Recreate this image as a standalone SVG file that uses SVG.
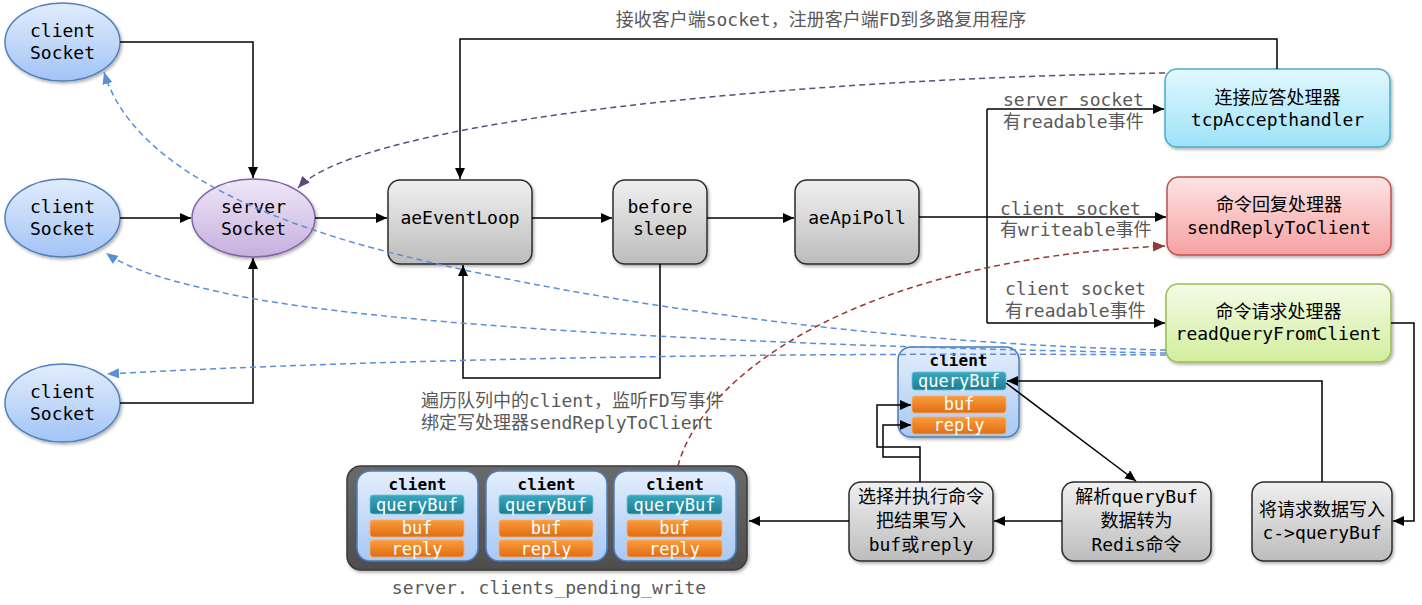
<svg xmlns="http://www.w3.org/2000/svg" width="1422" height="605" viewBox="0 0 1422 605">
<style>
text{font-family:"DejaVu Sans Mono","Noto Sans CJK SC",monospace;font-size:18px;fill:#000}
.c{text-anchor:middle}
.lbl{fill:#595959}
.w{fill:#fff;font-size:17px;text-anchor:middle}
.b{font-weight:bold;font-size:16px;text-anchor:middle}
.ln{fill:none;stroke:#000;stroke-width:1.5}
.ar{marker-end:url(#ah)}
.dB{fill:none;stroke:#5a8fd8;stroke-width:1.5;stroke-dasharray:6,4;marker-end:url(#ahB)}
.dP{fill:none;stroke:#604a7b;stroke-width:1.5;stroke-dasharray:6,4;marker-end:url(#ahP)}
.dR{fill:none;stroke:#953735;stroke-width:1.5;stroke-dasharray:6,4;marker-end:url(#ahR)}
.grey{fill:url(#gGrey);stroke:#2b2b2b;stroke-width:1.5;filter:url(#sh)}
.cb{fill:url(#gClient);stroke:#4a7ebb;stroke-width:1.5}
.qb{fill:url(#gTeal);stroke:#6fc3d4;stroke-width:0.8}
.ob{fill:url(#gOrange);stroke:#f6b070;stroke-width:0.8}
</style>
<defs>
<filter id="sh" x="-10%" y="-10%" width="130%" height="130%"><feDropShadow dx="1.5" dy="2" stdDeviation="1.5" flood-color="#000" flood-opacity="0.3"/></filter>
<linearGradient id="gBlue" x1="0" y1="0" x2="0" y2="1"><stop offset="0" stop-color="#e2edfc"/><stop offset="1" stop-color="#a2c4f6"/></linearGradient>
<linearGradient id="gPurple" x1="0" y1="0" x2="0" y2="1"><stop offset="0" stop-color="#efe8f7"/><stop offset="1" stop-color="#c5afdf"/></linearGradient>
<linearGradient id="gGrey" x1="0" y1="0" x2="0" y2="1"><stop offset="0" stop-color="#f0f0f0"/><stop offset="1" stop-color="#bcbcbc"/></linearGradient>
<linearGradient id="gCyan" x1="0" y1="0" x2="0" y2="1"><stop offset="0" stop-color="#e2f8fe"/><stop offset="1" stop-color="#9de2f8"/></linearGradient>
<linearGradient id="gRed" x1="0" y1="0" x2="0" y2="1"><stop offset="0" stop-color="#fde4e4"/><stop offset="1" stop-color="#f6a1a1"/></linearGradient>
<linearGradient id="gGreen" x1="0" y1="0" x2="0" y2="1"><stop offset="0" stop-color="#f4fbe7"/><stop offset="1" stop-color="#d2ee9d"/></linearGradient>
<linearGradient id="gClient" x1="0" y1="0" x2="0" y2="1"><stop offset="0" stop-color="#e4eefc"/><stop offset="1" stop-color="#a8c8f4"/></linearGradient>
<linearGradient id="gTeal" x1="0" y1="0" x2="0" y2="1"><stop offset="0" stop-color="#3aa9c0"/><stop offset="1" stop-color="#1c7d92"/></linearGradient>
<linearGradient id="gOrange" x1="0" y1="0" x2="0" y2="1"><stop offset="0" stop-color="#fc9c3a"/><stop offset="1" stop-color="#df6d14"/></linearGradient>
<linearGradient id="gDark" x1="0" y1="0" x2="0" y2="1"><stop offset="0" stop-color="#6a6a6a"/><stop offset="1" stop-color="#4e4e4e"/></linearGradient>
<marker id="ah" markerUnits="userSpaceOnUse" markerWidth="11" markerHeight="10" refX="11" refY="5" orient="auto"><path d="M0,0 L11,5 L0,10 z" fill="#000"/></marker>
<marker id="ahB" markerUnits="userSpaceOnUse" markerWidth="12" markerHeight="10" refX="12" refY="5" orient="auto"><path d="M0,0 L12,5 L0,10 z" fill="#5a8fd8"/></marker>
<marker id="ahP" markerUnits="userSpaceOnUse" markerWidth="12" markerHeight="10" refX="12" refY="5" orient="auto"><path d="M0,0 L12,5 L0,10 z" fill="#604a7b"/></marker>
<marker id="ahR" markerUnits="userSpaceOnUse" markerWidth="12" markerHeight="10" refX="12" refY="5" orient="auto"><path d="M0,0 L12,5 L0,10 z" fill="#953735"/></marker>
</defs>
<rect width="1422" height="605" fill="#fff"/>

<g id="clientSocket1"><ellipse cx="62.5" cy="42" rx="57.5" ry="39" fill="url(#gBlue)" stroke="#4f81bd" stroke-width="1.5" filter="url(#sh)"/><text x="62.5" y="37" class="c">client</text><text x="62.5" y="59" class="c">Socket</text></g>
<g id="clientSocket2"><ellipse cx="62.5" cy="218" rx="57.5" ry="39" fill="url(#gBlue)" stroke="#4f81bd" stroke-width="1.5" filter="url(#sh)"/><text x="62.5" y="213" class="c">client</text><text x="62.5" y="235" class="c">Socket</text></g>
<g id="clientSocket3"><ellipse cx="62.5" cy="403" rx="57.5" ry="39" fill="url(#gBlue)" stroke="#4f81bd" stroke-width="1.5" filter="url(#sh)"/><text x="62.5" y="398" class="c">client</text><text x="62.5" y="420" class="c">Socket</text></g>
<g id="serverSocket"><ellipse cx="253.5" cy="218" rx="61.5" ry="39" fill="url(#gPurple)" stroke="#8064a2" stroke-width="1.5" filter="url(#sh)"/><text x="253.5" y="213" class="c">server</text><text x="253.5" y="235" class="c">Socket</text></g>
<g id="aeEventLoop"><rect x="388" y="180" width="144" height="84" rx="12" class="grey"/><text x="460" y="224" class="c">aeEventLoop</text></g>
<g id="beforeSleep"><rect x="613" y="180" width="94" height="84" rx="12" class="grey"/><text x="660" y="213" class="c">before</text><text x="660" y="235" class="c">sleep</text></g>
<g id="aeApiPoll"><rect x="795" y="180" width="124" height="84" rx="12" class="grey"/><text x="857" y="224" class="c">aeApiPoll</text></g>
<g id="tcpAcceptHandler"><rect x="1165" y="69" width="225" height="78" rx="12" fill="url(#gCyan)" stroke="#4bacc6" stroke-width="1.5" filter="url(#sh)"/><text x="1277.5" y="104" class="c">连接应答处理器</text><text x="1277.5" y="126" class="c">tcpAccepthandler</text></g>
<g id="sendReplyToClient"><rect x="1167" y="177" width="224" height="78" rx="12" fill="url(#gRed)" stroke="#c0504d" stroke-width="1.5" filter="url(#sh)"/><text x="1279" y="211" class="c">命令回复处理器</text><text x="1279" y="234" class="c">sendReplyToClient</text></g>
<g id="readQueryFromClient"><rect x="1166" y="284" width="225" height="78" rx="12" fill="url(#gGreen)" stroke="#9bbb59" stroke-width="1.5" filter="url(#sh)"/><text x="1278.5" y="318" class="c">命令请求处理器</text><text x="1278.5" y="340" class="c">readQueryFromClient</text></g>

<g id="pendingWrite">
<rect x="347" y="466" width="400" height="104" rx="14" fill="url(#gDark)" stroke="#3a3a3a" stroke-width="1.5" filter="url(#sh)"/>
<g id="pendingClient1"><rect x="357" y="471" width="121" height="90" rx="13" class="cb"/><text x="417.5" y="490" class="b">client</text><rect x="370" y="495" width="94" height="19" rx="3" class="qb"/><text x="417" y="511" class="w">queryBuf</text><rect x="370" y="520" width="94" height="17" rx="3" class="ob"/><text x="417" y="534" class="w">buf</text><rect x="370" y="540" width="94" height="17" rx="3" class="ob"/><text x="417" y="555" class="w">reply</text></g>
<g id="pendingClient2"><rect x="486" y="471" width="121" height="90" rx="13" class="cb"/><text x="546.5" y="490" class="b">client</text><rect x="499" y="495" width="94" height="19" rx="3" class="qb"/><text x="546" y="511" class="w">queryBuf</text><rect x="499" y="520" width="94" height="17" rx="3" class="ob"/><text x="546" y="534" class="w">buf</text><rect x="499" y="540" width="94" height="17" rx="3" class="ob"/><text x="546" y="555" class="w">reply</text></g>
<g id="pendingClient3"><rect x="614" y="471" width="122" height="90" rx="13" class="cb"/><text x="675" y="490" class="b">client</text><rect x="627" y="495" width="95" height="19" rx="3" class="qb"/><text x="674.5" y="511" class="w">queryBuf</text><rect x="627" y="520" width="95" height="17" rx="3" class="ob"/><text x="674.5" y="534" class="w">buf</text><rect x="627" y="540" width="95" height="17" rx="3" class="ob"/><text x="674.5" y="555" class="w">reply</text></g>
</g>
<g id="client"><rect x="898" y="347" width="121" height="90" rx="13" class="cb" filter="url(#sh)"/><text x="958.5" y="366" class="b">client</text><rect x="912" y="372" width="94" height="18" rx="3" class="qb"/><text x="959" y="387" class="w">queryBuf</text><rect x="912" y="396" width="94" height="17" rx="3" class="ob"/><text x="959" y="410" class="w">buf</text><rect x="912" y="417" width="94" height="17" rx="3" class="ob"/><text x="959" y="431" class="w">reply</text></g>
<g id="execCommand"><rect x="849" y="482" width="144" height="79" rx="12" class="grey"/><text x="921" y="503" class="c">选择并执行命令</text><text x="921" y="527" class="c">把结果写入</text><text x="921" y="551" class="c">buf或reply</text></g>
<g id="parseQuery"><rect x="1062" y="482" width="149" height="79" rx="12" class="grey"/><text x="1136.5" y="503" class="c">解析queryBuf</text><text x="1136.5" y="527" class="c">数据转为</text><text x="1136.5" y="551" class="c">Redis命令</text></g>
<g id="writeQuery"><rect x="1252" y="482" width="140" height="79" rx="12" class="grey"/><text x="1322" y="516" class="c">将请求数据写入</text><text x="1322" y="539" class="c">c-&gt;queryBuf</text></g>

<g id="connectors">
<path class="ln ar" d="M120,42 H253 V178"/>
<path class="ln ar" d="M120,218 H191"/>
<path class="ln ar" d="M120,403 H253 V258"/>
<path class="ln ar" d="M315,218 H387"/>
<path class="ln ar" d="M532,218 H612"/>
<path class="ln ar" d="M707,218 H794"/>
<path class="ln ar" d="M1277,69 V39 H460 V179"/>
<path class="ln ar" d="M660,264 V378 H463 V265"/>
<path class="ln ar" d="M919,217 H1166"/>
<path class="ln" d="M987,109 V323"/>
<path class="ln ar" d="M987,109 H1164"/>
<path class="ln ar" d="M987,323 H1165"/>
<path class="ln ar" d="M1391,323 H1414 V521 H1393"/>
<path class="ln ar" d="M1322,482 V381 H1007"/>
<path class="ln ar" d="M1006,383 L1136,481"/>
<path class="ln ar" d="M1062,521 H994"/>
<path class="ln ar" d="M849,521 H749"/>
<path class="ln ar" d="M920,482 V447 H877 V405 H911"/>
<path class="ln ar" d="M920,457 H883 V425 H911"/>
<path class="dP" d="M1165,73 C800,78 360,120 298,188"/>
<path class="dB" d="M1166,350 C900,345 600,305 400,255 C250,218 130,160 104,72"/>
<path class="dB" d="M1166,353 C700,345 350,322 220,292 C170,281 130,270 106,253"/>
<path class="dB" d="M1166,355 C800,352 400,358 107,374"/>
<path class="dR" d="M678,466 C700,380 850,260 1165,246"/>
</g>

<g id="labels">
<text x="821" y="26" class="c lbl">接收客户端socket，注册客户端FD到多路复用程序</text>
<text x="1003" y="106" class="lbl">server socket</text>
<text x="1003" y="128" class="lbl">有readable事件</text>
<text x="1000" y="215" class="lbl">client socket</text>
<text x="1000" y="236" class="lbl">有writeable事件</text>
<text x="1005" y="295" class="lbl">client socket</text>
<text x="1005" y="317" class="lbl">有readable事件</text>
<text x="421" y="407" class="lbl">遍历队列中的client，监听FD写事件</text>
<text x="421" y="429" class="lbl">绑定写处理器sendReplyToClient</text>
<text x="549" y="594" class="c lbl">server. clients_pending_write</text>
</g>
</svg>
